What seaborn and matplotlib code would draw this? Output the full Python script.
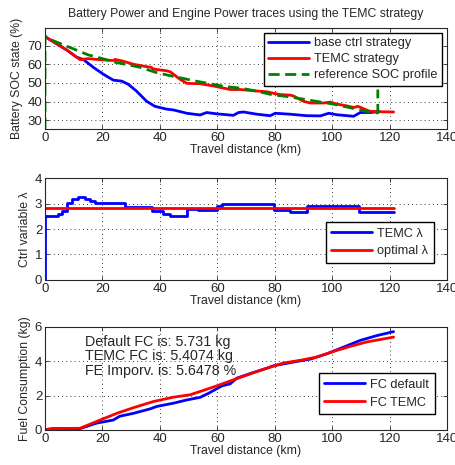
import matplotlib
matplotlib.use("Agg")
import matplotlib.pyplot as plt
import seaborn as sns
import pandas as pd

# --- SOC traces (travel distance in km, SOC in %) ---
base_km = [0, 7.6, 11, 13.4, 16.8, 20.3, 23.8, 26.7, 29, 31.9, 35.4, 38.3, 42.4, 44.7,
           49.4, 54, 56.3, 59.8, 65.6, 67.4, 69.1, 73.8, 78.4, 80.2, 85.4, 91.2, 95.9,
           98.8, 101.7, 107.5, 109.8, 113.3, 116.5]
base_soc = [74.8, 67.6, 63.8, 62.5, 58.4, 54.7, 51.5, 51, 49.3, 45.6, 40.2, 37.5, 36, 35.6,
            33.8, 32.9, 34.2, 33.5, 32.7, 34.2, 34.5, 33.3, 32.5, 33.8, 33.3, 32.5, 32.4,
            33.8, 33, 32.2, 34.2, 34.2, 34.8]

temc_km = [0, 7.6, 12.2, 15, 19, 23.8, 24.4, 27.3, 30.8, 35.4, 37, 37.6, 42.4, 43.6, 47,
           49.4, 54, 58.7, 64.5, 68, 73.8, 77.3, 79.6, 81.9, 85.4, 86.6, 90, 92.4, 97,
           99.3, 101.7, 105, 107.5, 109, 111, 113, 116.8, 121.4]
temc_soc = [74.8, 67.6, 62.5, 63, 62.5, 62, 62.6, 61.6, 60, 58.7, 58.4, 57.5, 56.5, 56, 52,
            49.8, 49.6, 48.4, 46.5, 46.5, 45.7, 45.3, 44.5, 43.8, 43.5, 43, 40.2, 39.3, 39.3,
            39.8, 38.7, 37.8, 36.9, 37.5, 36.2, 34.9, 34.6, 34.5]

ref_km = [0, 0, 3, 9.3, 15.1, 20.3, 24.4, 33.1, 38.3, 42.4, 47.6, 52.2, 58.1, 62.7, 68.5,
          74.3, 79.5, 84.7, 89.4, 100.4, 106.2, 111.5, 115.9, 115.9]
ref_soc = [25.5, 75, 72.5, 68.6, 65, 62.9, 61.1, 58.4, 55.8, 54.3, 52.6, 51.1, 49.4, 48.1,
           47.2, 45.4, 43.6, 42.7, 41.5, 38.7, 36.8, 34.9, 34, 46.5]

# --- control variable lambda (step values start at each km) ---
lam_km = [0, 0, 4.6, 5.8, 7.6, 9.3, 11.6, 14, 15.7, 17.4, 27.9, 37.2, 41.2, 43.6, 49.4,
          53.4, 59.8, 61.6, 79.6, 85.2, 91.2, 109.2, 121.4]
lam_val = [0, 2.52, 2.58, 2.72, 3.01, 3.16, 3.24, 3.16, 3.1, 3.04, 2.85, 2.7, 2.58, 2.51,
           2.77, 2.73, 2.9, 2.98, 2.75, 2.65, 2.9, 2.66, 2.66]
opt_km = [0, 121.4]
opt_val = [2.84, 2.84]

# --- fuel consumption (kg) ---
fc_def_km = [0, 2.9, 12.2, 18, 23.8, 26, 30.8, 36.6, 38.9, 44.7, 49.4, 54, 57, 61.6, 64.5,
             66.8, 72.6, 77.3, 79.6, 86.6, 92.4, 98.2, 104, 109.8, 115.6, 121.4]
fc_def = [0.02, 0.08, 0.08, 0.4, 0.58, 0.8, 0.97, 1.23, 1.37, 1.56, 1.75, 1.9, 2.14, 2.57,
          2.69, 3.02, 3.35, 3.6, 3.74, 3.96, 4.13, 4.44, 4.83, 5.22, 5.5, 5.73]
fc_temc_km = [0, 2.9, 12.2, 19.2, 25, 30.8, 37.8, 44.7, 50.5, 54, 59.8, 65.6, 71.5, 77.3,
              83, 88.9, 94.7, 100.5, 106.3, 112.1, 121.4]
fc_temc = [0.02, 0.08, 0.1, 0.58, 0.97, 1.3, 1.66, 1.91, 2.05, 2.24, 2.57, 2.92, 3.27, 3.6,
           3.9, 4.06, 4.25, 4.58, 4.87, 5.13, 5.41]

fc_lines = ["Default FC is: 5.731 kg", "TEMC FC is: 5.4074 kg", "FE Imporv. is: 5.6478 %"]

sns.set_style("ticks")
plt.rcParams["font.family"] = ["Liberation Sans", "DejaVu Sans"]
plt.rcParams["xtick.direction"] = "in"
plt.rcParams["ytick.direction"] = "in"

fig = plt.figure(figsize=(4.56, 4.65), dpi=100)
left, width = 0.0987, 0.8816
ax1 = fig.add_axes([left, 0.7226, width, 0.218])
ax2 = fig.add_axes([left, 0.398, width, 0.219])
ax3 = fig.add_axes([left, 0.0753, width, 0.2215])

LW = 2.0
LEG = dict(loc="upper right", borderaxespad=0, fontsize=9.2, fancybox=False,
           edgecolor="k", framealpha=1, handlelength=3.2, handletextpad=0.4)


def tracer(ax, x, y, couleur, label, **kw):
    df = pd.DataFrame({"x": x, "y": y})
    sns.lineplot(data=df, x="x", y="y", ax=ax, color=couleur, lw=LW, label=label,
                 sort=False, estimator=None, **kw)


def habiller(ax, ylabel, ylim, yticks):
    ax.set_xlim(0, 140)
    ax.set_ylim(*ylim)
    ax.set_xticks(range(0, 141, 20))
    ax.set_yticks(yticks)
    ax.grid(True, color="k", linestyle=(0, (1, 4)), lw=0.6)
    ax.tick_params(labelsize=9.5, length=3, width=0.6, top=True, right=True, pad=2)
    for s in ax.spines.values():
        s.set_linewidth(0.8)
    ax.set_xlabel("Travel distance (km)", fontsize=8.8, labelpad=0)
    ax.set_ylabel(ylabel, fontsize=8.8, labelpad=3)


# panel 1
tracer(ax1, base_km, base_soc, "#0000ff", "base ctrl strategy")
tracer(ax1, temc_km, temc_soc, "#ff0000", "TEMC strategy")
tracer(ax1, ref_km, ref_soc, "#008000", "reference SOC profile", linestyle=(0, (4, 2)))
habiller(ax1, "Battery SOC state (%)", (25.4, 79.6), [30, 40, 50, 60, 70])
ax1.set_title("Battery Power and Engine Power traces using the TEMC strategy",
              fontsize=8.8, pad=8)
ax1.legend(bbox_to_anchor=(0.988, 0.948), labelspacing=0.3, borderpad=0.35, **LEG)

# panel 2
tracer(ax2, lam_km, lam_val, "#0000ff", "TEMC \u03bb", drawstyle="steps-post")
tracer(ax2, opt_km, opt_val, "#ff0000", "optimal \u03bb")
habiller(ax2, "Ctrl variable \u03bb", (0, 4), [0, 1, 2, 3, 4])
ax2.legend(bbox_to_anchor=(0.968, 0.57), labelspacing=0.45, borderpad=0.45, **LEG)

# panel 3
tracer(ax3, fc_def_km, fc_def, "#0000ff", "FC default")
tracer(ax3, fc_temc_km, fc_temc, "#ff0000", "FC TEMC")
habiller(ax3, "Fuel Consumption (kg)", (0, 6), [0, 2, 4, 6])
ax3.legend(bbox_to_anchor=(0.97, 0.553), labelspacing=0.45, borderpad=0.45, **LEG)
for i, ligne in enumerate(fc_lines):
    ax3.text(0.1, 0.857 - i * 0.142, ligne, transform=ax3.transAxes, fontsize=10.3,
             va="center", ha="left")

fig.savefig("out.png", dpi=100)
